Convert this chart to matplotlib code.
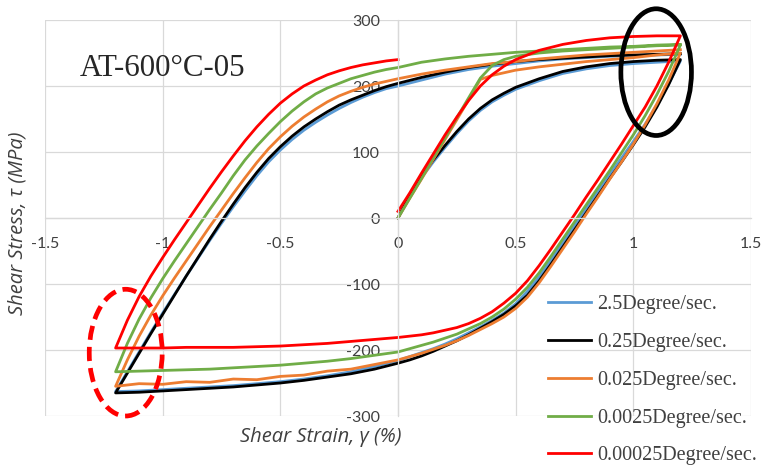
import matplotlib
matplotlib.use("Agg")
import matplotlib.pyplot as plt
from matplotlib.patches import Ellipse

# ---- data: shear strain (%) and shear stress (MPa) for each loading rate ----
labels = ["2.5Degree/sec.", "0.25Degree/sec.", "0.025Degree/sec.",
          "0.0025Degree/sec.", "0.00025Degree/sec."]
colors = ["#5B9BD5", "#000000", "#ED7D31", "#70AD47", "#FF0000"]

# first loading branch, 0 -> +1.2 %
strain_load = [0, .05, .1, .15, .2, .25, .3, .35, .4, .45, .5, .6, .7, .8, .9, 1.0, 1.1, 1.2]
load_blue   = [0, 32, 61, 85, 107, 128, 147, 163, 176, 186, 195, 208, 219, 226, 231, 234, 236, 238]
load_black  = [0, 35, 64, 88, 110, 131, 150, 166, 179, 189, 198, 211, 222, 229, 234, 237, 239, 240]
load_orange = [0, 30, 59, 89, 119, 149, 179, 210, 216, 220, 224, 229, 233, 237, 240, 243, 247, 250]
load_green  = [0, 30, 60, 91, 121, 152, 182, 212, 231, 240, 245, 250, 253, 255, 257, 259, 261, 262]
load_red    = [10, 38, 68, 97, 126, 153, 178, 200, 217, 230, 240, 254, 263, 269, 273, 275, 276, 276]

# unloading branch, +1.2 -> -1.2 %
strain_unload = [1.2, 1.15, 1.1, 1.05, 1.0, 0.95, 0.9, 0.85, 0.8, 0.75, 0.7, 0.65, 0.6,
                 0.55, 0.5, 0.45, 0.4, 0.35, 0.3, 0.25, 0.2, 0.15, 0.1, 0.05, 0.0,
                 -0.1, -0.2, -0.3, -0.4, -0.5, -0.6, -0.7, -0.8, -0.9, -1.0, -1.1, -1.2]
unload_blue   = [238, 203, 171, 142, 116, 91, 66, 40, 14, -12, -38, -64, -89,
                 -111, -130, -144, -155, -165, -174, -183, -191, -198, -204, -210, -216,
                 -225, -233, -239, -244, -248, -251, -254, -256, -258, -260, -262, -263]
unload_black  = [240, 202, 168, 138, 111, 85, 60, 34, 8, -18, -44, -70, -95,
                 -117, -133, -146, -157, -167, -177, -186, -194, -202, -209, -215, -220,
                 -229, -236, -241, -246, -250, -253, -256, -258, -260, -262, -264, -265]
unload_orange = [250, 209, 173, 141, 112, 85, 59, 32, 6, -21, -47, -73, -98,
                 -120, -137, -150, -160, -169, -178, -186, -193, -199, -205, -210, -215,
                 -222, -229, -232, -238, -240, -245, -244, -249, -248, -252, -251, -255]
unload_green  = [262, 222, 187, 155, 126, 99, 72, 46, 20, -6, -32, -58, -83,
                 -105, -123, -138, -150, -160, -168, -176, -182, -188, -193, -198, -203,
                 -208, -213, -217, -220, -223, -225, -227, -229, -230, -231, -232, -233]
unload_red    = [276, 236, 200, 168, 140, 112, 85, 58, 32, 5, -21, -47, -72,
                 -95, -114, -129, -142, -152, -160, -166, -170, -174, -177, -179, -181,
                 -184, -187, -190, -192, -194, -195, -196, -196, -196, -197, -197, -197]

# reloading branch, -1.2 % back up (red stops at 0 %)
strain_reload = [-1.2, -1.15, -1.1, -1.05, -1.0, -0.95, -0.9, -0.85, -0.8, -0.75, -0.7,
                 -0.65, -0.6, -0.55, -0.5, -0.45, -0.4, -0.35, -0.3, -0.25, -0.2, -0.15,
                 -0.1, -0.05, 0.0, 0.1, 0.2, 0.3, 0.4, 0.5, 0.6, 0.7, 0.8, 0.9, 1.0,
                 1.1, 1.2]
reload_blue   = [-263, -233, -203, -173, -144, -116, -88, -61, -34, -8, 17,
                 41, 64, 85, 103, 119, 133, 145, 156, 166, 175, 183,
                 190, 196, 200, 209, 218, 225, 230, 234, 238, 241, 243, 245, 246,
                 247, 248]
reload_black  = [-265, -235, -205, -175, -146, -117, -88, -60, -32, -5, 21,
                 46, 69, 90, 108, 124, 138, 150, 161, 171, 179, 186,
                 193, 199, 204, 213, 221, 228, 233, 237, 240, 242, 244, 246, 247,
                 248, 249]
reload_orange = [-255, -215, -179, -147, -118, -91, -65, -39, -13, 12, 37,
                 61, 84, 105, 123, 139, 153, 165, 176, 185, 192, 198,
                 203, 207, 211, 218, 224, 229, 234, 237, 241, 244, 247, 249, 251,
                 253, 255]
reload_green  = [-233, -190, -153, -121, -92, -65, -39, -13, 13, 38, 64,
                 88, 109, 128, 146, 162, 176, 188, 197, 204, 211, 216,
                 221, 225, 228, 236, 241, 245, 248, 251, 253, 255, 257, 259, 260,
                 262, 263]
reload_red    = [-197, -155, -119, -88, -60, -33, -7, 19, 45, 70, 94,
                 117, 138, 157, 174, 188, 200, 209, 217, 223, 228, 232,
                 235, 238, 240]

series = [
    (load_blue, unload_blue, reload_blue),
    (load_black, unload_black, reload_black),
    (load_orange, unload_orange, reload_orange),
    (load_green, unload_green, reload_green),
    (load_red, unload_red, reload_red),
]

# ---- figure ----
W, H, DPI = 767, 466, 100
fig = plt.figure(figsize=(W / DPI, H / DPI), dpi=DPI)
ax = fig.add_axes([45 / W, 1 - 416 / H, 706 / W, 396 / H])

grid_c = "#d9d9d9"
txt_c = "#404040"
tick_font = ["Lato", "DejaVu Sans"]
label_font = ["Open Sans", "DejaVu Sans"]

ax.set_xlim(-1.5, 1.5)
ax.set_ylim(-300, 300)
xt = [-1.5, -1.0, -0.5, 0.0, 0.5, 1.0, 1.5]
ax.set_xticks(xt)
ax.set_xticklabels(["-1.5", "-1", "-0.5", "0", "0.5", "1", "1.5"])
yt = [-300, -200, -100, 0, 100, 200, 300]
ax.set_yticks(yt)
ax.set_yticklabels([str(v) for v in yt])
ax.grid(True, color=grid_c, lw=0.9)
ax.set_axisbelow(True)

for s in ["top", "right"]:
    ax.spines[s].set_visible(False)
for s in ["left", "bottom"]:
    ax.spines[s].set_position(("data", 0))
    ax.spines[s].set_color(grid_c)
    ax.spines[s].set_linewidth(0.9)
ax.tick_params(axis="both", length=0, colors=txt_c, labelsize=11.5)
ax.tick_params(axis="x", pad=14)
ax.tick_params(axis="y", pad=13)
for t in ax.get_xticklabels() + ax.get_yticklabels():
    t.set_family(tick_font)

for (ld, ul, rl), c, lab in zip(series, colors, labels):
    xs = strain_load + strain_unload[1:] + strain_reload[1:len(rl)]
    ys = ld + ul[1:] + rl[1:]
    ax.plot(xs, ys, color=c, lw=2.0, label=lab, solid_joinstyle="round")

# highlighted regions
ax.add_patch(Ellipse((1.097, 221), 0.30, 192, fill=False, ec="black", lw=3.4,
                     clip_on=False, zorder=5))
ax.add_patch(Ellipse((-1.157, -204), 0.31, 192, fill=False, ec="#FF0000", lw=3.4,
                     ls=(0, (3.0, 1.5)), clip_on=False, zorder=5))

fig.text(80 / W, 1 - 76 / H, "AT-600\u00b0C-05", family="Liberation Serif",
         fontsize=22.3, color="#262626", ha="left", va="baseline")

fig.text(18 / W, 1 - 223 / H, "Shear Stress, \u03c4 (MPa)", rotation=90,
         family=label_font, style="italic", fontsize=14.5, color=txt_c,
         ha="center", va="center")
fig.text(321 / W, 1 - 437 / H, "Shear Strain, \u03b3 (%)",
         family=label_font, style="italic", fontsize=14.5, color=txt_c,
         ha="center", va="center")

leg = ax.legend(loc="upper left", bbox_to_anchor=(548 / W, 1 - 295 / H),
                bbox_transform=fig.transFigure, frameon=False, borderpad=0,
                borderaxespad=0, handlelength=2.14, handletextpad=0.3,
                labelspacing=0.93, prop={"family": "Liberation Serif", "size": 14.5})
for t in leg.get_texts():
    t.set_color(txt_c)

fig.savefig("out.png", dpi=DPI)
